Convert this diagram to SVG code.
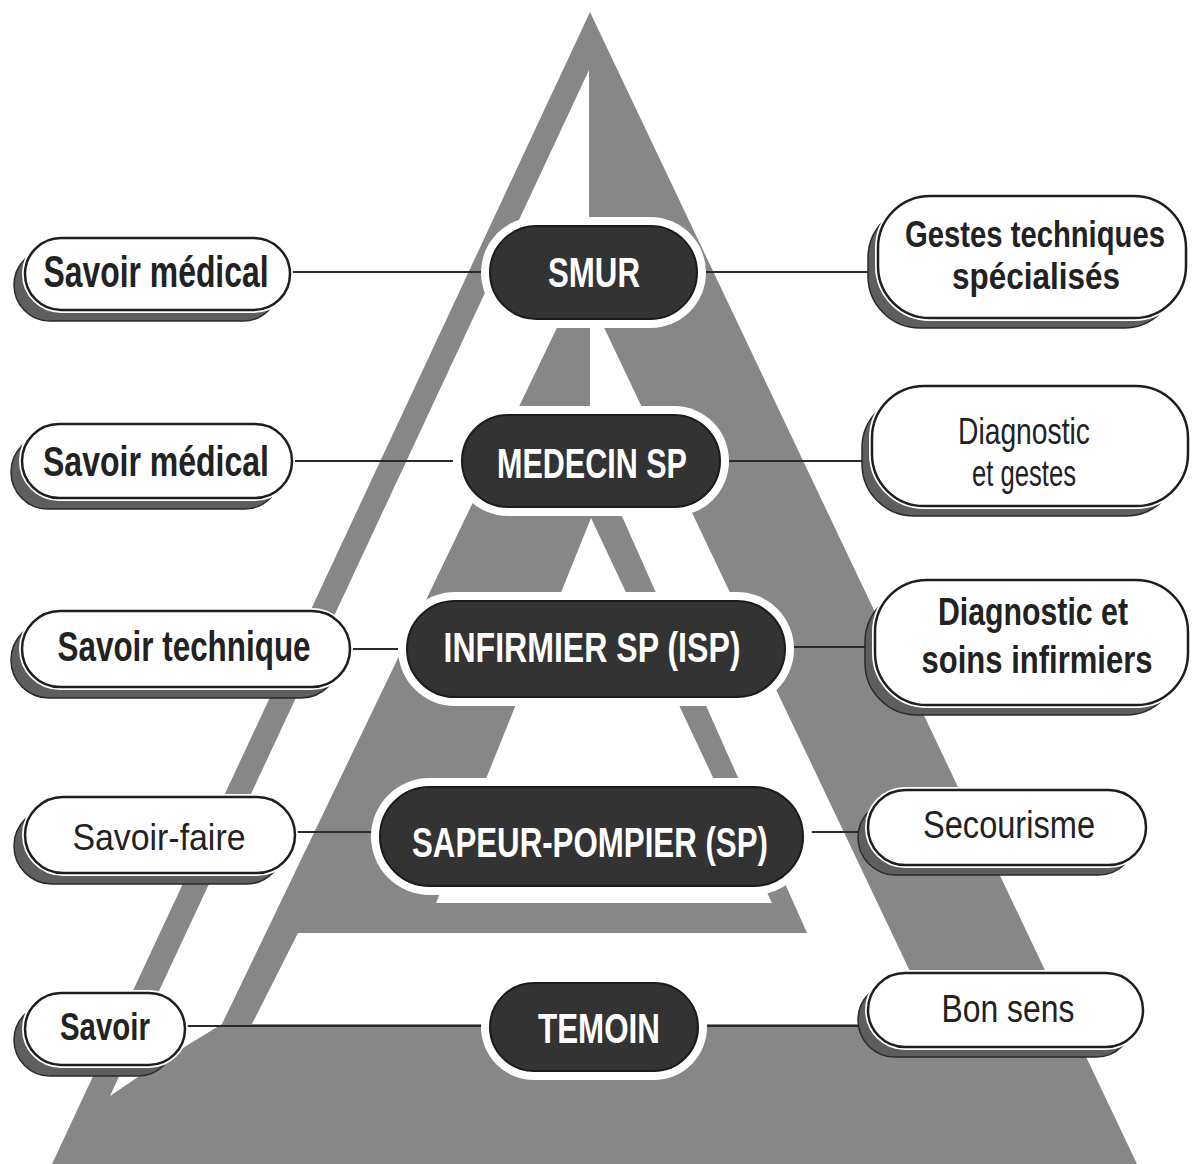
<svg xmlns="http://www.w3.org/2000/svg" width="1192" height="1164" viewBox="0 0 1192 1164">
  <style>
    .tone{fill:#878787}
    .face{fill:#ffffff}
    .link{stroke:#2a2a2a;stroke-width:2;fill:none}
    .halo{fill:#ffffff}
    .core{fill:#333333;stroke:#1b1b1b;stroke-width:2}
    .core-t{font-family:"Liberation Sans",Arial,sans-serif;font-weight:700;font-size:43px;fill:#ffffff;text-anchor:middle}
    .lbl-sh{fill:#5e5e5e;stroke:#2a2a2a;stroke-width:1.5}
    .lbl-ring{fill:none;stroke:#ffffff;stroke-width:6}
    .lbl{fill:#ffffff;stroke:#1e1e1e;stroke-width:2.5}
    .lbl-t{font-family:"Liberation Sans",Arial,sans-serif;fill:#222222;text-anchor:middle}
    .b{font-weight:700}
    .r{font-weight:400}
  </style>

  <!-- pyramid backdrop -->
  <g id="pyramid">
    <polygon class="tone" points="590,12 1137,1164 52,1164"/>
    <!-- left face of outer level -->
    <polygon class="face" points="589,70 589,261 222,1024 160,1062 110,1096"/>
    <!-- right face of middle level -->
    <polygon class="face" points="590,298 935,1024 252,1024 298,933 807,933 621,514 590,514"/>
    <!-- inner level -->
    <polygon class="face" points="591,518 772,903 436,903"/>
  </g>

  <!-- connectors -->
  <g id="connectors">
    <line class="link" x1="290" y1="272" x2="490" y2="272"/>
    <line class="link" x1="697" y1="272" x2="878" y2="272"/>
    <line class="link" x1="292" y1="461" x2="462" y2="461"/>
    <line class="link" x1="720" y1="461" x2="872" y2="461"/>
    <line class="link" x1="350" y1="649" x2="407" y2="649"/>
    <line class="link" x1="785" y1="647" x2="875" y2="647"/>
    <line class="link" x1="295" y1="832" x2="380" y2="832"/>
    <line class="link" x1="803" y1="832" x2="868" y2="832"/>
    <line class="link" x1="185" y1="1026" x2="490" y2="1026"/>
    <line class="link" x1="698" y1="1026" x2="868" y2="1026"/>
  </g>

  <!-- central levels (text condensed with a horizontal scale of 0.72) -->
  <g id="smur">
    <rect class="halo" x="481" y="217" width="225" height="111" rx="55.5"/>
    <rect class="core" x="490" y="226" width="207" height="93" rx="46.5"/>
    <text class="core-t" transform="scale(0.72,1)" x="825" y="287" textLength="127.8" lengthAdjust="spacingAndGlyphs">SMUR</text>
  </g>
  <g id="medecin-sp">
    <rect class="halo" x="453" y="406" width="276" height="110" rx="55"/>
    <rect class="core" x="462" y="415" width="258" height="92" rx="46"/>
    <text class="core-t" transform="scale(0.72,1)" x="822.2" y="478" textLength="263.9" lengthAdjust="spacingAndGlyphs">MEDECIN SP</text>
  </g>
  <g id="isp">
    <rect class="halo" x="398" y="592" width="396" height="114" rx="57"/>
    <rect class="core" x="407" y="601" width="378" height="96" rx="48"/>
    <text class="core-t" transform="scale(0.72,1)" x="822.2" y="662" textLength="412.5" lengthAdjust="spacingAndGlyphs">INFIRMIER SP (ISP)</text>
  </g>
  <g id="sapeur-pompier">
    <rect class="halo" x="371" y="778" width="441" height="117" rx="58.5"/>
    <rect class="core" x="380" y="787" width="423" height="99" rx="49.5"/>
    <text class="core-t" transform="scale(0.72,1)" x="819.4" y="857" textLength="494.4" lengthAdjust="spacingAndGlyphs">SAPEUR-POMPIER (SP)</text>
  </g>
  <g id="temoin">
    <rect class="halo" x="481" y="974" width="226" height="106" rx="53"/>
    <rect class="core" x="490" y="983" width="208" height="88" rx="44"/>
    <text class="core-t" transform="scale(0.72,1)" x="831.9" y="1043" textLength="169.4" lengthAdjust="spacingAndGlyphs">TEMOIN</text>
  </g>

  <!-- left column -->
  <g id="savoir-medical-1">
    <rect class="lbl-sh" x="14" y="249" width="265" height="72" rx="36"/>
    <rect class="lbl-ring" x="25" y="238" width="265" height="72" rx="36"/>
    <rect class="lbl" x="25" y="238" width="265" height="72" rx="36"/>
    <text class="lbl-t b" transform="scale(0.72,1)" x="216.7" y="287" font-size="44" textLength="312.5" lengthAdjust="spacingAndGlyphs">Savoir médical</text>
  </g>
  <g id="savoir-medical-2">
    <rect class="lbl-sh" x="11" y="435" width="270" height="74" rx="37"/>
    <rect class="lbl-ring" x="22" y="424" width="270" height="74" rx="37"/>
    <rect class="lbl" x="22" y="424" width="270" height="74" rx="37"/>
    <text class="lbl-t b" transform="scale(0.72,1)" x="216.7" y="476" font-size="42" textLength="313.9" lengthAdjust="spacingAndGlyphs">Savoir médical</text>
  </g>
  <g id="savoir-technique">
    <rect class="lbl-sh" x="11" y="622" width="328" height="76" rx="38"/>
    <rect class="lbl-ring" x="22" y="611" width="328" height="76" rx="38"/>
    <rect class="lbl" x="22" y="611" width="328" height="76" rx="38"/>
    <text class="lbl-t b" transform="scale(0.72,1)" x="255.6" y="661" font-size="42" textLength="351.4" lengthAdjust="spacingAndGlyphs">Savoir technique</text>
  </g>
  <g id="savoir-faire">
    <rect class="lbl-sh" x="14" y="808" width="270" height="76" rx="38"/>
    <rect class="lbl-ring" x="25" y="797" width="270" height="76" rx="38"/>
    <rect class="lbl" x="25" y="797" width="270" height="76" rx="38"/>
    <text class="lbl-t r" transform="scale(0.72,1)" x="220.8" y="850" font-size="37" textLength="240.3" lengthAdjust="spacingAndGlyphs">Savoir-faire</text>
  </g>
  <g id="savoir">
    <rect class="lbl-sh" x="14" y="1004" width="160" height="72" rx="36"/>
    <rect class="lbl-ring" x="25" y="993" width="160" height="72" rx="36"/>
    <rect class="lbl" x="25" y="993" width="160" height="72" rx="36"/>
    <text class="lbl-t b" transform="scale(0.72,1)" x="145.8" y="1040" font-size="38" textLength="125" lengthAdjust="spacingAndGlyphs">Savoir</text>
  </g>

  <!-- right column -->
  <g id="gestes-techniques">
    <rect class="lbl-sh" x="868" y="206" width="308" height="122" rx="52"/>
    <rect class="lbl-ring" x="878" y="196" width="308" height="122" rx="52"/>
    <rect class="lbl" x="878" y="196" width="308" height="122" rx="52"/>
    <text class="lbl-t b" transform="scale(0.72,1)" x="1437.5" y="247" font-size="37" textLength="361.1" lengthAdjust="spacingAndGlyphs">Gestes techniques</text>
    <text class="lbl-t b" transform="scale(0.72,1)" x="1438.9" y="289" font-size="37" textLength="233.3" lengthAdjust="spacingAndGlyphs">spécialisés</text>
  </g>
  <g id="diagnostic-gestes">
    <rect class="lbl-sh" x="862" y="396" width="316" height="120" rx="52"/>
    <rect class="lbl-ring" x="872" y="386" width="316" height="120" rx="52"/>
    <rect class="lbl" x="872" y="386" width="316" height="120" rx="52"/>
    <text class="lbl-t r" transform="scale(0.72,1)" x="1422.2" y="444" font-size="37" textLength="183.3" lengthAdjust="spacingAndGlyphs">Diagnostic</text>
    <text class="lbl-t r" transform="scale(0.72,1)" x="1422.2" y="486" font-size="37" textLength="144.4" lengthAdjust="spacingAndGlyphs">et gestes</text>
  </g>
  <g id="diagnostic-soins">
    <rect class="lbl-sh" x="865" y="590" width="313" height="125" rx="52"/>
    <rect class="lbl-ring" x="875" y="580" width="313" height="125" rx="52"/>
    <rect class="lbl" x="875" y="580" width="313" height="125" rx="52"/>
    <text class="lbl-t b" transform="scale(0.72,1)" x="1434.7" y="625" font-size="38" textLength="263.9" lengthAdjust="spacingAndGlyphs">Diagnostic et</text>
    <text class="lbl-t b" transform="scale(0.72,1)" x="1440.3" y="673" font-size="38" textLength="320.8" lengthAdjust="spacingAndGlyphs">soins infirmiers</text>
  </g>
  <g id="secourisme">
    <rect class="lbl-sh" x="858" y="800" width="278" height="75" rx="37.5"/>
    <rect class="lbl-ring" x="868" y="790" width="278" height="75" rx="37.5"/>
    <rect class="lbl" x="868" y="790" width="278" height="75" rx="37.5"/>
    <text class="lbl-t r" transform="scale(0.72,1)" x="1401.4" y="838" font-size="38" textLength="238.9" lengthAdjust="spacingAndGlyphs">Secourisme</text>
  </g>
  <g id="bon-sens">
    <rect class="lbl-sh" x="858" y="983" width="275" height="74" rx="37"/>
    <rect class="lbl-ring" x="868" y="973" width="275" height="74" rx="37"/>
    <rect class="lbl" x="868" y="973" width="275" height="74" rx="37"/>
    <text class="lbl-t r" transform="scale(0.72,1)" x="1400" y="1022" font-size="38" textLength="184.7" lengthAdjust="spacingAndGlyphs">Bon sens</text>
  </g>
</svg>
